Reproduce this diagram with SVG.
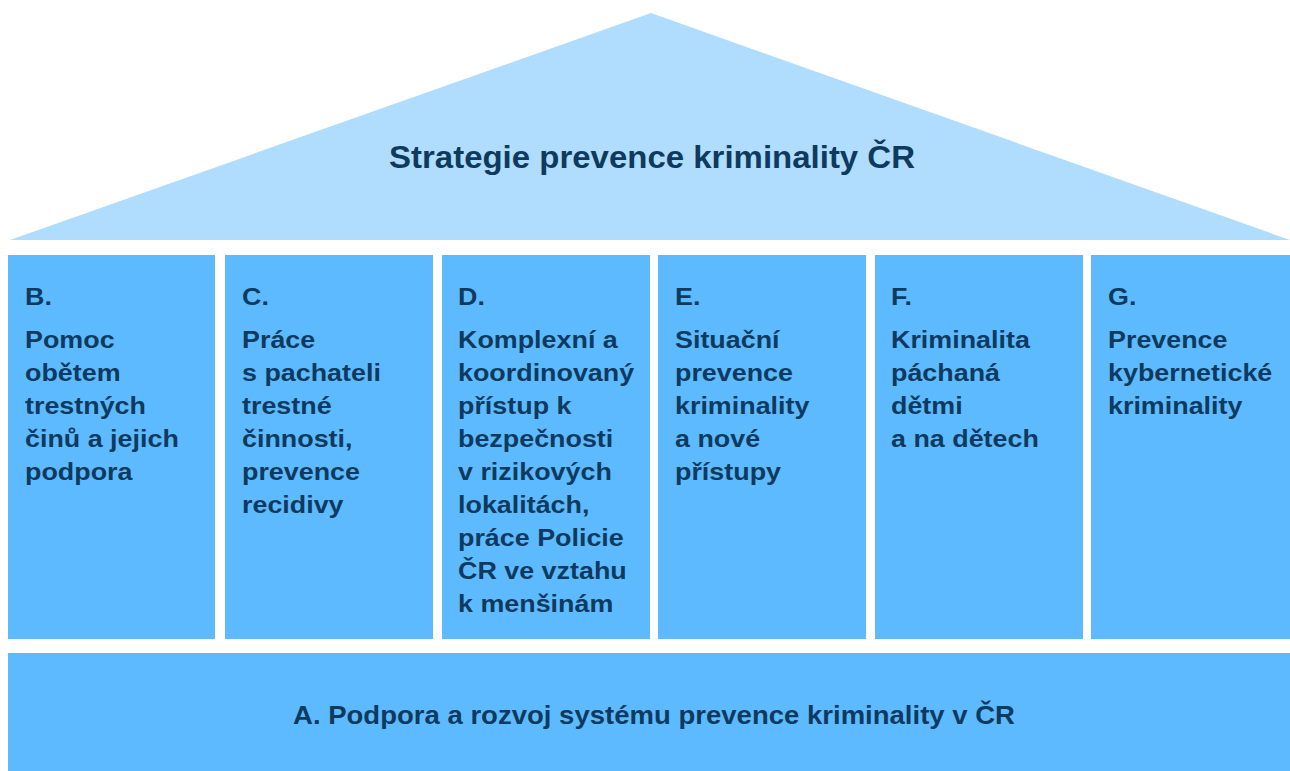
<svg xmlns="http://www.w3.org/2000/svg" width="1290" height="771" viewBox="0 0 1290 771">
<style>
  .roof { fill: #B0DDFD; }
  .col { fill: #5DBAFE; }
  .t { font-family: "Liberation Sans", Arial, sans-serif; font-weight: bold; fill: #0E3A5F; }
  .ct { font-size: 24px; }
</style>
<rect width="1290" height="771" fill="#FFFFFF"/>
<g id="roof">
  <polygon class="roof" points="10,240 651,13 1290,240"/>
  <text class="t" x="652" y="168" font-size="32" text-anchor="middle" textLength="526" lengthAdjust="spacingAndGlyphs">Strategie prevence kriminality  ČR</text>
</g>
<g id="colB">
  <rect class="col" x="8" y="255" width="207" height="384"/>
  <g transform="translate(25,0) scale(1.12,1)">
    <text class="t ct" x="0" y="305">B.</text>
    <text class="t ct" x="0" y="348">Pomoc</text>
    <text class="t ct" x="0" y="381">obětem</text>
    <text class="t ct" x="0" y="414">trestných</text>
    <text class="t ct" x="0" y="447">činů a jejich</text>
    <text class="t ct" x="0" y="480">podpora</text>
  </g>
</g>
<g id="colC">
  <rect class="col" x="225" y="255" width="208" height="384"/>
  <g transform="translate(242,0) scale(1.12,1)">
    <text class="t ct" x="0" y="305">C.</text>
    <text class="t ct" x="0" y="348">Práce</text>
    <text class="t ct" x="0" y="381">s pachateli</text>
    <text class="t ct" x="0" y="414">trestné</text>
    <text class="t ct" x="0" y="447">činnosti,</text>
    <text class="t ct" x="0" y="480">prevence</text>
    <text class="t ct" x="0" y="513">recidivy</text>
  </g>
</g>
<g id="colD">
  <rect class="col" x="442" y="255" width="208" height="384"/>
  <g transform="translate(458,0) scale(1.12,1)">
    <text class="t ct" x="0" y="305">D.</text>
    <text class="t ct" x="0" y="348">Komplexní a</text>
    <text class="t ct" x="0" y="381">koordinovaný</text>
    <text class="t ct" x="0" y="414">přístup k</text>
    <text class="t ct" x="0" y="447">bezpečnosti</text>
    <text class="t ct" x="0" y="480">v rizikových</text>
    <text class="t ct" x="0" y="513">lokalitách,</text>
    <text class="t ct" x="0" y="546">práce Policie</text>
    <text class="t ct" x="0" y="579">ČR ve vztahu</text>
    <text class="t ct" x="0" y="612">k menšinám</text>
  </g>
</g>
<g id="colE">
  <rect class="col" x="658" y="255" width="208" height="384"/>
  <g transform="translate(675,0) scale(1.12,1)">
    <text class="t ct" x="0" y="305">E.</text>
    <text class="t ct" x="0" y="348">Situační</text>
    <text class="t ct" x="0" y="381">prevence</text>
    <text class="t ct" x="0" y="414">kriminality</text>
    <text class="t ct" x="0" y="447">a nové</text>
    <text class="t ct" x="0" y="480">přístupy</text>
  </g>
</g>
<g id="colF">
  <rect class="col" x="875" y="255" width="208" height="384"/>
  <g transform="translate(891,0) scale(1.12,1)">
    <text class="t ct" x="0" y="305">F.</text>
    <text class="t ct" x="0" y="348">Kriminalita</text>
    <text class="t ct" x="0" y="381">páchaná</text>
    <text class="t ct" x="0" y="414">dětmi</text>
    <text class="t ct" x="0" y="447">a na dětech</text>
  </g>
</g>
<g id="colG">
  <rect class="col" x="1091" y="255" width="199" height="384"/>
  <g transform="translate(1108,0) scale(1.12,1)">
    <text class="t ct" x="0" y="305">G.</text>
    <text class="t ct" x="0" y="348">Prevence</text>
    <text class="t ct" x="0" y="381">kybernetické</text>
    <text class="t ct" x="0" y="414">kriminality</text>
  </g>
</g>
<g id="base">
  <rect class="col" x="8" y="653" width="1282" height="118"/>
  <text class="t" x="654" y="724" font-size="25" text-anchor="middle" textLength="722" lengthAdjust="spacingAndGlyphs">A. Podpora a rozvoj systému prevence kriminality v ČR</text>
</g>
</svg>
